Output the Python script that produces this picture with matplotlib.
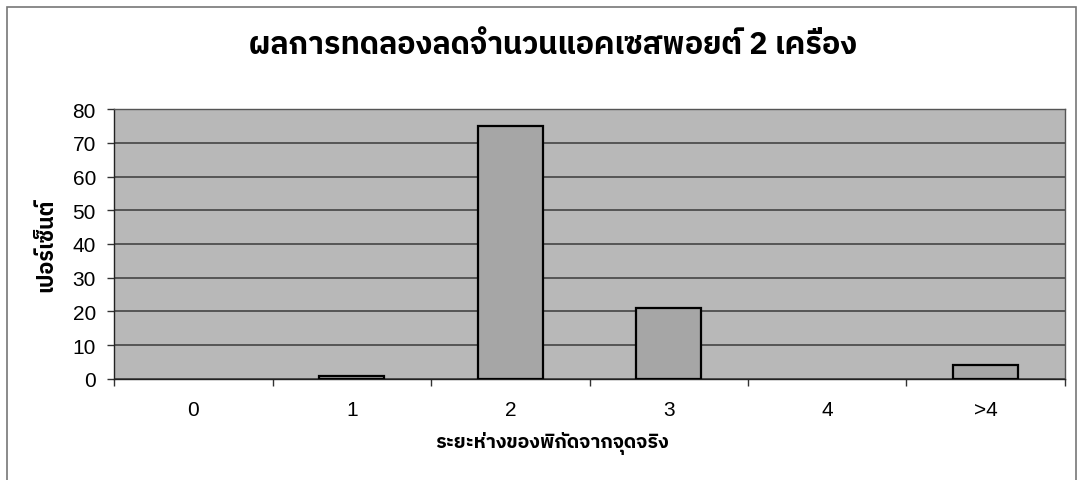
import matplotlib
matplotlib.use('Agg')
import matplotlib.pyplot as plt
from matplotlib import font_manager
from matplotlib.ft2font import FT2Font
from matplotlib.patches import Rectangle

categories = ['0', '1', '2', '3', '4', '>4']
percent = [0, 1, 75, 21, 0, 4]
y_ticks = [0, 10, 20, 30, 40, 50, 60, 70, 80]

title = 'ผลการทดลองลดจำนวนแอคเซสพอยต์ 2 เครื่อง'
x_title = 'ระยะห่างของพิกัดจากจุดจริง'
y_title = 'เปอร์เซ็นต์'


def thai_font():
    # หา font ที่มีอักษรไทย
    found = []
    for f in font_manager.fontManager.ttflist:
        try:
            if 0x0E01 in FT2Font(f.fname).get_charmap():
                found.append(f.name)
        except Exception:
            pass
    for name in found:
        if 'Sans' in name:
            return name
    return found[0] if found else 'DejaVu Sans'


thai = [thai_font(), 'DejaVu Sans']

fig = plt.figure(figsize=(10.8, 4.81), dpi=100)
fig.patch.set_facecolor('white')
ax = fig.add_axes([0.1056, 0.2100, 0.8805, 0.5613])

x = list(range(len(categories)))
ax.set_facecolor('#b8b8b8')
# แท่งที่เป็น 0 ไม่ต้องวาด
xs = [i for i, v in zip(x, percent) if v > 0]
vs = [v for v in percent if v > 0]
ax.bar(xs, vs, width=0.41, color='#a6a6a6', edgecolor='black', linewidth=1.6, zorder=3)

ax.set_xlim(-0.5, len(categories) - 0.5)
ax.set_ylim(0, 80)
ax.set_yticks(y_ticks)
ax.yaxis.grid(True, color='#3a3a3a', linewidth=1.1, zorder=1)
ax.set_axisbelow(True)

ax.set_xticks(x)
ax.set_xticklabels(categories)
ax.set_xticks([i - 0.5 for i in range(len(categories) + 1)], minor=True)
ax.tick_params(axis='x', which='major', length=0, pad=15, labelsize=15)
ax.tick_params(axis='x', which='minor', length=5, width=1, color='#333333')
ax.tick_params(axis='y', length=5, width=1, color='#333333', pad=8, labelsize=15)
for lab in ax.get_xticklabels() + ax.get_yticklabels():
    lab.set_family(['Liberation Sans', 'DejaVu Sans'])

for s in ax.spines.values():
    s.set_color('#555555')
    s.set_linewidth(1)
ax.spines['bottom'].set_color('#222222')
ax.spines['left'].set_color('#222222')

fig.text(0.512, 0.905, title, ha='center', va='center', fontsize=22, fontweight='bold', family=thai)
fig.text(0.511, 0.079, x_title, ha='center', va='center', fontsize=14, fontweight='bold', family=thai)
fig.text(0.042, 0.49, y_title, ha='center', va='center', rotation=90, fontsize=15.5, fontweight='bold', family=thai)

# กรอบรอบกราฟ
fig.patches.append(Rectangle((7 / 1080, -0.1), 1069 / 1080, 1.1 - 8 / 481, transform=fig.transFigure,
                             fill=False, edgecolor='#777777', linewidth=1.2))

fig.savefig('out.png', dpi=100)
